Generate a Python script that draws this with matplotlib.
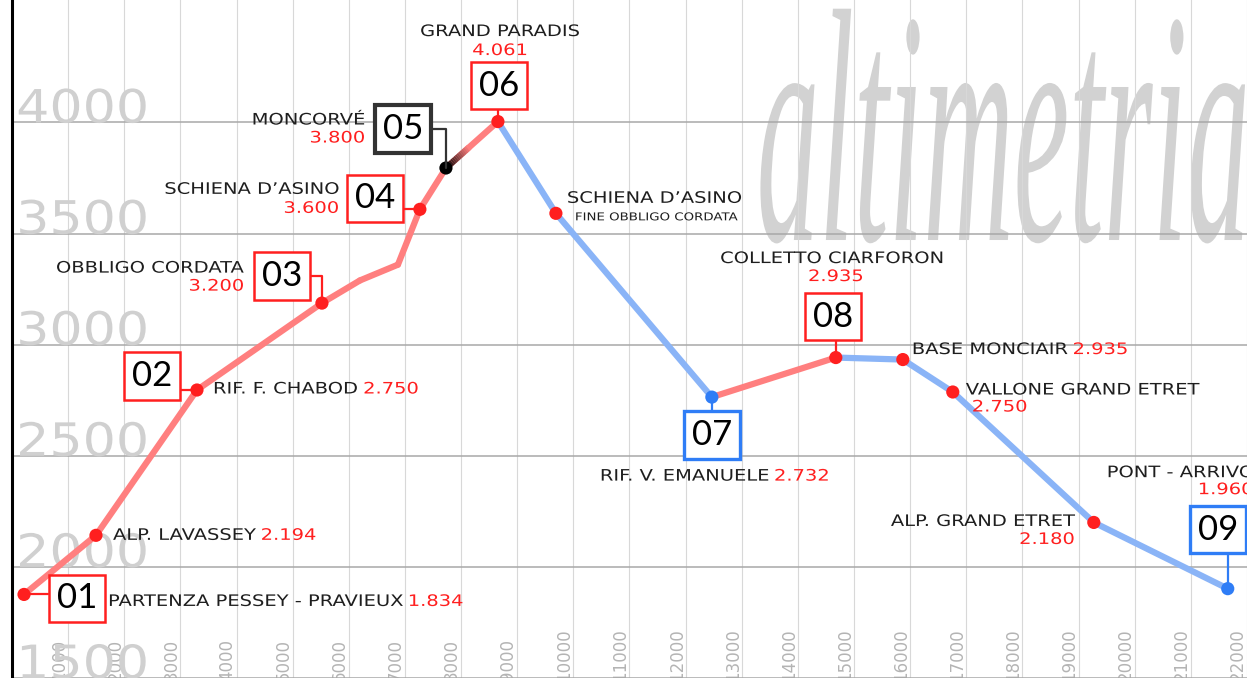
import matplotlib
matplotlib.use('Agg')
import matplotlib.pyplot as plt
import numpy as np
from matplotlib.collections import LineCollection
from matplotlib import patheffects
from matplotlib.transforms import Affine2D, Bbox
from matplotlib.colors import to_rgb

# profilo altimetrico: distanza [m], quota [m]
dist = [214, 1496, 3295, 5521, 6198, 6875, 7266, 7730, 8656, 9689,
        12467, 14675, 15869, 16759, 19271, 21657]
quota = [1876, 2142, 2796, 3187, 3289, 3360, 3609, 3795, 4004, 3591,
         2764, 2942, 2933, 2787, 2200, 1902]
# tratti: s = salita (rosso), d = discesa (blu)
tratto = ['s', 's', 's', 's', 's', 's', 's', 's',
          'd', 'd', 's', 'd', 'd', 'd', 'd']

# punti di passaggio (indice nel profilo)
wp_idx = [0, 1, 2, 3, 6, 7, 8, 9, 10, 11, 12, 13, 14, 15]
nomi = ['PARTENZA PESSEY - PRAVIEUX', 'ALP. LAVASSEY', 'RIF. F. CHABOD',
        'OBBLIGO CORDATA', 'SCHIENA D’ASINO', 'MONCORVÉ', 'GRAND PARADIS',
        'SCHIENA D’ASINO', 'RIF. V. EMANUELE', 'COLLETTO CIARFORON',
        'BASE MONCIAIR', 'VALLONE GRAND ETRET', 'ALP. GRAND ETRET',
        'PONT - ARRIVO']
quote_txt = ['1.834', '2.194', '2.750', '3.200', '3.600', '3.800', '4.061',
             None, '2.732', '2.935', '2.935', '2.750', '2.180', '1.960']
sottotitolo = 'FINE OBBLIGO CORDATA'

# tappe numerate
tappe = ['01', '02', '03', '04', '05', '06', '07', '08', '09']
tappe_wp = [0, 2, 3, 4, 5, 6, 8, 9, 13]

x_ticks = list(range(1000, 23000, 1000))
y_ticks = [1500, 2000, 2500, 3000, 3500, 4000]

# ---- stile / posizioni (pixel) ----
ROSSO = '#ff1f1f'
LINE_S = '#ff7f7f'
LINE_D = '#8ab4f7'
BLU = '#2f7df6'
NERO = '#1e1e1e'
SX = 1.23          # the labels' font is much wider than DejaVu
FS = 11.4
wp_col = [ROSSO] * 14
wp_col[5] = 'black'
wp_col[8] = BLU
wp_col[13] = BLU

nome_off = [(84, -7), (17, 0), (16, 1), (-78, 35), (-81, 20), (-81, 48),
            (2, 90), (11, 15), (-112, -79), (-4, 99), (9, 10), (13, 2),
            (-19, 1), (-121, 116)]
nome_ha = ['left', 'left', 'left', 'right', 'right', 'right', 'center',
           'left', 'left', 'center', 'left', 'left', 'right', 'left']
quota_off = ['inline', 'inline', 'inline', (-78, 17), (-81, 1), (-81, 30),
             (2, 71), None, 'inline', (0, 81), 'inline', (19, -15),
             (-19, -17), (-30, 99)]

box_off = [(53, -4), (-45, 14), (-40, 27), (-45, 11), (-43, 39), (1, 36),
           (0, -38), (-3, 41), (-10, 59)]
box_ec = [ROSSO, ROSSO, ROSSO, ROSSO, '#333333', ROSSO, BLU, ROSSO, BLU]
box_lw = [1.8, 1.8, 1.8, 1.8, 3.0, 1.8, 2.4, 1.8, 2.4]
box_conn = ['angle,angleA=90,angleB=0,rad=0', 'angle,angleA=90,angleB=0,rad=0',
            'angle,angleA=0,angleB=90,rad=0', 'angle,angleA=90,angleB=0,rad=0',
            'angle,angleA=0,angleB=90,rad=0', 'angle,angleA=0,angleB=90,rad=0',
            'angle,angleA=0,angleB=90,rad=0', 'angle,angleA=0,angleB=90,rad=0',
            'angle,angleA=0,angleB=90,rad=0']
ANCHOR = {'left': 0.0, 'center': 0.5, 'right': 1.0}


class Stretch(patheffects.AbstractPathEffect):
    # widen / squeeze the glyphs horizontally, keeping the alignment point
    def __init__(self, sx=1.0, anchor=0.0):
        super().__init__()
        self.sx, self.anchor = sx, anchor

    def draw_path(self, renderer, gc, tpath, affine, rgbFace=None):
        m = affine.get_matrix().copy()
        w = tpath.vertices[:, 0].max() * m[0, 0] if len(tpath.vertices) else 0
        m[0, :2] *= self.sx
        m[0, 2] -= self.anchor * (self.sx - 1) * w
        renderer.draw_path(gc, tpath, Affine2D(m), rgbFace)


def after(txt, sx):
    # bbox of a stretched (left aligned) text, for placing the next text
    def f(renderer):
        bb = txt.get_window_extent(renderer)
        return Bbox.from_extents(bb.x0, bb.y0, bb.x0 + bb.width * sx, bb.y1)
    return f


plt.rcParams['font.family'] = 'DejaVu Sans'

fig = plt.figure(figsize=(12.47, 6.78), dpi=100)
ax = fig.add_axes([12 / 1247, 0, 1235 / 1247, 1])
ax.set_xlim(0, 22000)
ax.set_ylim(1538, 4551)

for s in ['top', 'right', 'bottom']:
    ax.spines[s].set_visible(False)
ax.spines['left'].set_linewidth(2.2)
ax.spines['left'].set_color('black')
ax.spines['left'].set_zorder(6)

ax.set_axisbelow(True)
ax.set_xticks(x_ticks)
ax.set_xticklabels([str(v) for v in x_ticks])
ax.set_yticks(y_ticks)
ax.set_yticklabels([str(v) for v in y_ticks])
ax.tick_params(axis='x', length=0, pad=2, labelsize=12, labelcolor='#b4b4b4')
ax.tick_params(axis='y', length=0, pad=-3, labelsize=33, labelcolor='#d0d0d0')
plt.setp(ax.get_xticklabels(), rotation=90, ha='right', va='bottom')
plt.setp(ax.get_yticklabels(), ha='left', va='baseline',
         path_effects=[Stretch(1.14)])
ax.xaxis.grid(True, color='#d8d8d8', lw=0.8)
ax.yaxis.grid(True, color='#a8a8a8', lw=1.1)

# scritta di sfondo
ax.text(0.603, 0.646, 'altimetria', transform=ax.transAxes, ha='left',
        va='baseline', fontsize=240, family='Liberation Serif', style='italic',
        color='#d2d2d2', zorder=0.2, path_effects=[Stretch(0.375)])

# linea del profilo
d = np.array(dist, dtype=float)
q = np.array(quota, dtype=float)
segs = [[(d[i], q[i]), (d[i + 1], q[i + 1])] for i in range(len(d) - 1)]
cols = [LINE_S if t == 's' else LINE_D for t in tratto]
ax.add_collection(LineCollection(segs, colors=cols, linewidths=4.5,
                                 capstyle='round', joinstyle='round', zorder=3))

# sfumatura nera dopo Moncorvé
i5 = 7
tt = np.linspace(0, 0.45, 16)
gx = d[i5] + (d[i5 + 1] - d[i5]) * tt
gy = q[i5] + (q[i5 + 1] - q[i5]) * tt
c0 = np.array(to_rgb('black'))
c1 = np.array(to_rgb(LINE_S))
gsegs = [[(gx[k], gy[k]), (gx[k + 1], gy[k + 1])] for k in range(len(gx) - 1)]
gcols = [c0 + (c1 - c0) * (k / (len(gx) - 2)) for k in range(len(gx) - 1)]
ax.add_collection(LineCollection(gsegs, colors=gcols, linewidths=4.5,
                                 capstyle='butt', zorder=3.1))

# punti
wx = d[wp_idx]
wy = q[wp_idx]
ax.scatter(wx, wy, s=90, c=wp_col, zorder=5, linewidths=0)

# etichette
for k, nome in enumerate(nomi):
    dx, dy = nome_off[k]
    ha = nome_ha[k]
    t = ax.annotate(nome, xy=(wx[k], wy[k]), xytext=(dx, dy),
                    textcoords='offset pixels', ha=ha, va='center',
                    fontsize=FS, color=NERO, zorder=7,
                    path_effects=[Stretch(SX, ANCHOR[ha])])
    qo = quota_off[k]
    if qo == 'inline':
        ax.annotate(quote_txt[k], xy=(1, 0), xycoords=after(t, SX),
                    xytext=(5, 0), textcoords='offset pixels', ha='left',
                    va='bottom', fontsize=FS, color=ROSSO, zorder=7,
                    path_effects=[Stretch(SX)])
    elif qo is not None:
        ax.annotate(quote_txt[k], xy=(wx[k], wy[k]), xytext=qo,
                    textcoords='offset pixels', ha=ha, va='center',
                    fontsize=FS, color=ROSSO, zorder=7,
                    path_effects=[Stretch(SX, ANCHOR[ha])])

ax.annotate(sottotitolo, xy=(wx[7], wy[7]), xytext=(19, -4),
            textcoords='offset pixels', ha='left', va='center',
            fontsize=7.8, color=NERO, zorder=7, path_effects=[Stretch(SX)])

# riquadri numerati
for k, lab in enumerate(tappe):
    w = tappe_wp[k]
    ax.annotate(lab, xy=(wx[w], wy[w]), xytext=box_off[k],
                textcoords='offset pixels', ha='center', va='center',
                fontsize=25, family='Lato', color='black', zorder=8,
                bbox=dict(boxstyle='square,pad=0.22', fc='white',
                          ec=box_ec[k], lw=box_lw[k]),
                arrowprops=dict(arrowstyle='-', color=box_ec[k], lw=1.6,
                                shrinkA=0, shrinkB=0,
                                connectionstyle=box_conn[k]))

fig.savefig('out.png', dpi=100)
